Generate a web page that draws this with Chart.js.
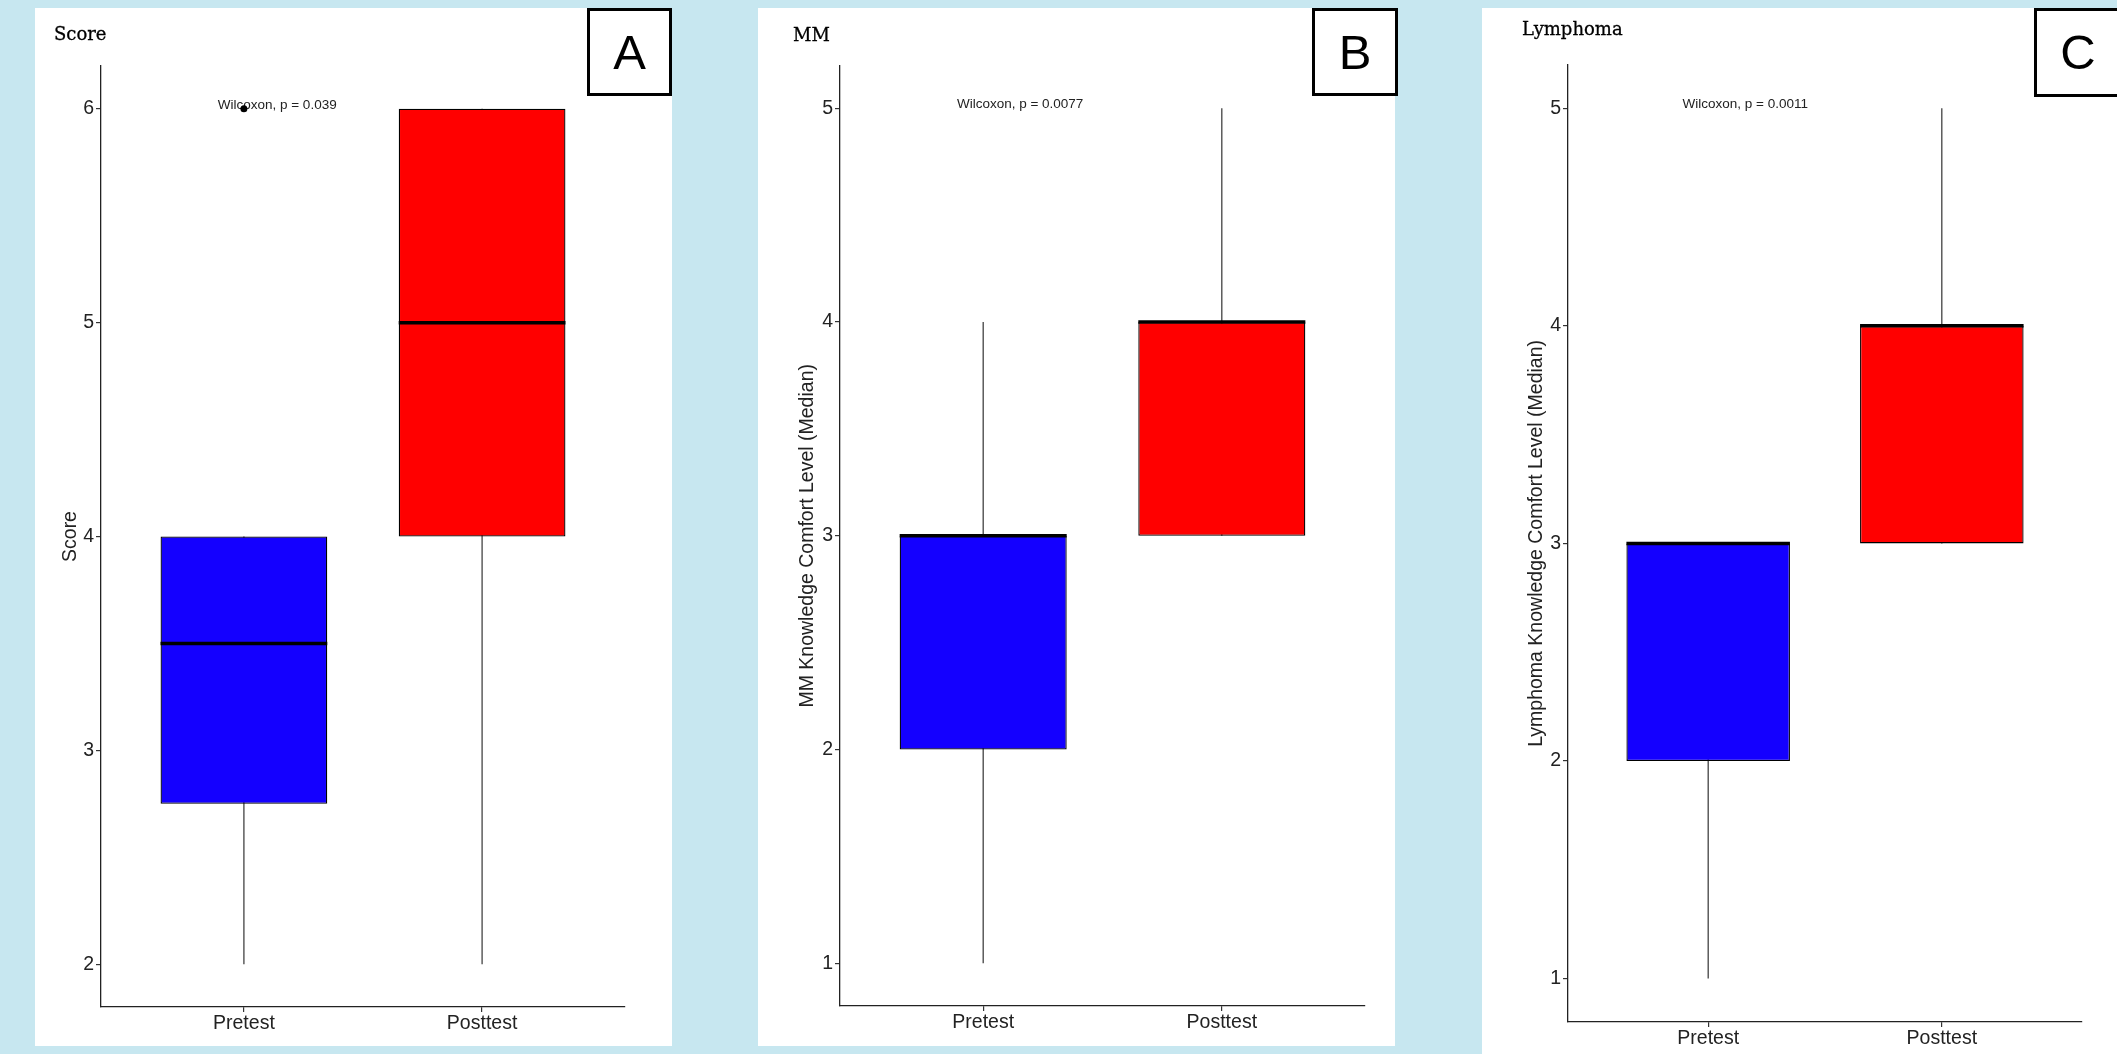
<!DOCTYPE html>
<html>
<head>
<meta charset="utf-8">
<script src="https://cdn.jsdelivr.net/npm/chart.js@4.4.1/dist/chart.umd.min.js"></script>
<style>
  html, body { margin: 0; padding: 0; }
  body {
    width: 2117px; height: 1054px; position: relative; overflow: hidden;
    background: #c7e7f0;
    font-family: "Liberation Sans", Arial, sans-serif;
  }
  .panel { position: absolute; background: #fff; }
  .panel canvas { position: absolute; left: 0; top: 0; }
  .ptitle {
    position: absolute; font-family: "DejaVu Serif", serif; font-size: 18px;
    line-height: 1; color: #000; white-space: nowrap;
    -webkit-text-stroke: 0.3px #000;
  }
  .tag {
    position: absolute; box-sizing: border-box; border: 3px solid #000; background: #fff;
    display: flex; align-items: center; justify-content: center;
    font-size: 49px; color: #000; line-height: 1;
  }
</style>
</head>
<body>

<div class="panel" style="left:35px; top:8px; width:637px; height:1038px;">
  <canvas id="chartA" width="637" height="1038"></canvas>
</div>
<div class="panel" style="left:758px; top:8px; width:637px; height:1038px;">
  <canvas id="chartB" width="637" height="1038"></canvas>
</div>
<div class="panel" style="left:1482px; top:8px; width:635px; height:1046px;">
  <canvas id="chartC" width="635" height="1046"></canvas>
</div>

<div class="ptitle" style="left:54px; top:25px;">Score</div>
<div class="ptitle" style="left:793px; top:26px;">MM</div>
<div class="ptitle" style="left:1522px; top:20px;">Lymphoma</div>

<div class="tag" style="left:587px; top:8px; width:85px; height:88px;">A</div>
<div class="tag" style="left:1312px; top:8px; width:86px; height:88px;">B</div>
<div class="tag" style="left:2034px; top:8px; width:88px; height:89px;">C</div>

<script>
// categories
const groups = ["Pretest", "Posttest"];
const groupPos = [1, 2];
const boxColors = ["#1400ff", "#ff0000"];

// A - Score
const scoreLow = [2, 2];
const scoreQ1 = [2.75, 4];
const scoreMedian = [3.5, 5];
const scoreQ3 = [4, 6];
const scoreHigh = [4, 6];
const scoreOutliers = [6, null];
const scoreTicks = [2, 3, 4, 5, 6];
const scoreP = "Wilcoxon, p = 0.039";

// B - MM
const mmLow = [1, 3];
const mmQ1 = [2, 3];
const mmMedian = [3, 4];
const mmQ3 = [3, 4];
const mmHigh = [4, 5];
const mmOutliers = [null, null];
const mmTicks = [1, 2, 3, 4, 5];
const mmP = "Wilcoxon, p = 0.0077";

// C - Lymphoma
const lymLow = [1, 3];
const lymQ1 = [2, 3];
const lymMedian = [3, 4];
const lymQ3 = [3, 4];
const lymHigh = [3, 5];
const lymOutliers = [null, null];
const lymTicks = [1, 2, 3, 4, 5];
const lymP = "Wilcoxon, p = 0.0011";

Chart.defaults.font.family = "'Liberation Sans', Arial, sans-serif";

// median lines + p-value label
const boxExtras = {
    id: "boxExtras",
    beforeDatasetsDraw(chart, args, opts) {
        const ctx = chart.ctx;
        ctx.save();
        ctx.fillStyle = "#222";
        ctx.font = "13.5px 'Liberation Sans', Arial, sans-serif";
        ctx.textAlign = "left";
        ctx.textBaseline = "alphabetic";
        ctx.fillText(opts.label, chart.scales.x.getPixelForValue(0.89), chart.scales.y.getPixelForValue(opts.labelY));
        ctx.restore();
    },
    afterDatasetsDraw(chart, args, opts) {
        const ctx = chart.ctx;
        const y = chart.scales.y;
        ctx.save();
        ctx.strokeStyle = "#000";
        ctx.lineWidth = 3.5;
        chart.getDatasetMeta(1).data.forEach((bar, i) => {
            const py = y.getPixelForValue(opts.medians[i]);
            ctx.beginPath();
            ctx.moveTo(bar.x - bar.width / 2, py);
            ctx.lineTo(bar.x + bar.width / 2, py);
            ctx.stroke();
        });
        ctx.restore();
    }
};

function makeChart(id, p) {
    const all = p.low.concat(p.high, p.outliers.filter(v => v !== null));
    const dMin = Math.min(...all), dMax = Math.max(...all);
    const pad = (dMax - dMin) * 0.05;

    const axisGrid = { display: true, offset: false, drawOnChartArea: false, drawTicks: true, tickLength: 5, color: "#333", lineWidth: 1.2 };
    const axisBorder = { display: true, color: "#222", width: 1.3 };

    new Chart(document.getElementById(id), {
        type: "bar",
        data: {
            datasets: [
                {
                    // whiskers
                    data: groupPos.map((x, i) => ({ x: x, y: [p.low[i], p.high[i]] })),
                    backgroundColor: "#333",
                    borderWidth: 0,
                    maxBarThickness: 1.2,
                    grouped: false,
                    order: 3
                },
                {
                    // boxes
                    data: groupPos.map((x, i) => ({ x: x, y: [p.q1[i], p.q3[i]] })),
                    backgroundColor: boxColors,
                    borderColor: "#000",
                    borderWidth: 1.3,
                    borderSkipped: false,
                    categoryPercentage: 1,
                    barPercentage: 0.7,
                    grouped: false,
                    order: 2
                },
                {
                    type: "scatter",
                    data: groupPos.map((x, i) => p.outliers[i] === null ? null : { x: x, y: p.outliers[i] }).filter(Boolean),
                    backgroundColor: "#000",
                    borderWidth: 0,
                    pointRadius: 3.5,
                    order: 1
                }
            ]
        },
        options: {
            responsive: false,
            animation: false,
            layout: { padding: { top: p.padTop, right: p.padRight, left: 0, bottom: 0 } },
            plugins: {
                legend: { display: false },
                tooltip: { enabled: false },
                boxExtras: { medians: p.median, label: p.label, labelY: p.ticks[p.ticks.length - 1] }
            },
            scales: {
                x: {
                    type: "linear",
                    offset: false,
                    min: 0.4,
                    max: 2.6,
                    afterBuildTicks: s => { s.ticks = groupPos.map(v => ({ value: v })); },
                    afterFit: s => { s.height = p.xHeight; },
                    grid: axisGrid,
                    border: axisBorder,
                    ticks: {
                        callback: v => groups[groupPos.indexOf(v)],
                        font: { size: 19.5 },
                        color: "#222",
                        padding: 0,
                        maxRotation: 0,
                        autoSkip: false
                    }
                },
                y: {
                    min: dMin - pad,
                    max: dMax + pad,
                    afterBuildTicks: s => { s.ticks = p.ticks.map(v => ({ value: v })); },
                    afterFit: s => { s.width = p.yWidth; },
                    grid: axisGrid,
                    border: axisBorder,
                    ticks: { font: { size: 19.5 }, color: "#222", padding: 2 },
                    title: {
                        display: true,
                        text: p.title,
                        font: { size: 19.5 },
                        color: "#222",
                        padding: { top: p.titlePad, bottom: 0 }
                    }
                }
            }
        },
        plugins: [boxExtras]
    });
}

makeChart("chartA", {
    low: scoreLow, q1: scoreQ1, median: scoreMedian, q3: scoreQ3, high: scoreHigh,
    outliers: scoreOutliers, ticks: scoreTicks, label: scoreP, title: "Score",
    yWidth: 66, padTop: 58, padRight: 47, xHeight: 39, titlePad: 23.6
});
makeChart("chartB", {
    low: mmLow, q1: mmQ1, median: mmMedian, q3: mmQ3, high: mmHigh,
    outliers: mmOutliers, ticks: mmTicks, label: mmP, title: "MM Knowledge Comfort Level (Median)",
    yWidth: 82, padTop: 57.6, padRight: 30, xHeight: 40, titlePad: 37.6
});
makeChart("chartC", {
    low: lymLow, q1: lymQ1, median: lymMedian, q3: lymQ3, high: lymHigh,
    outliers: lymOutliers, ticks: lymTicks, label: lymP, title: "Lymphoma Knowledge Comfort Level (Median)",
    yWidth: 86, padTop: 56.8, padRight: 35, xHeight: 32, titlePad: 42.6
});
</script>
</body>
</html>
